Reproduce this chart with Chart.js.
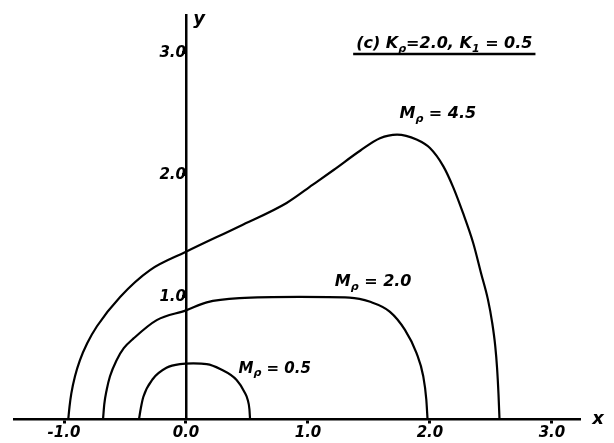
<!DOCTYPE html>
<html>
<head>
<meta charset="utf-8">
<script src="https://cdn.jsdelivr.net/npm/chart.js@4.4.1/dist/chart.umd.min.js"></script>
<style>
  html, body { margin: 0; padding: 0; background: #fff; }
</style>
</head>
<body>
<canvas id="myChart" width="614" height="443"></canvas>
<script>
  // axis ticks
  const xTicks = [-1, 0, 1, 2, 3];
  const xTickLabels = ['-1.0', '0.0', '1.0', '2.0', '3.0'];
  const yTicks = [1, 2, 3];
  const yTickLabels = ['1.0', '2.0', '3.0'];

  // M_rho = 4.5
  const m45X = [-0.965, -0.955, -0.94, -0.91, -0.87, -0.81, -0.73, -0.54, -0.295, 0.0, 0.44, 0.825, 1.04, 1.21, 1.43, 1.59, 1.73, 1.89, 2.0, 2.11, 2.19, 2.27, 2.355, 2.42, 2.475, 2.51, 2.535, 2.55, 2.562, 2.57];
  const m45Y = [0, 0.1, 0.21, 0.35, 0.48, 0.62, 0.76, 1.0, 1.22, 1.37, 1.58, 1.77, 1.92, 2.04, 2.2, 2.3, 2.33, 2.29, 2.22, 2.07, 1.9, 1.69, 1.44, 1.19, 0.98, 0.79, 0.6, 0.42, 0.2, 0];

  // M_rho = 2.0
  const m20X = [-0.68, -0.67, -0.65, -0.623, -0.57, -0.51, -0.43, -0.24, 0.0, 0.17, 0.44, 0.93, 1.34, 1.51, 1.67, 1.795, 1.89, 1.945, 1.97, 1.98];
  const m20Y = [0, 0.12, 0.24, 0.35, 0.48, 0.58, 0.66, 0.81, 0.89, 0.956, 0.99, 1.0, 0.995, 0.96, 0.88, 0.73, 0.54, 0.35, 0.16, 0];

  // M_rho = 0.5
  const m05X = [-0.385, -0.37, -0.35, -0.27, -0.16, -0.05, 0.06, 0.17, 0.28, 0.415, 0.48, 0.505, 0.52, 0.525];
  const m05Y = [0, 0.09, 0.18, 0.33, 0.42, 0.45, 0.455, 0.45, 0.41, 0.32, 0.22, 0.16, 0.08, 0];

  const curveNames = ['4.5', '2.0', '0.5'];

  const toPoints = (xs, ys) => xs.map((v, i) => ({x: v, y: ys[i]}));

  const FONT = '"DejaVu Sans", sans-serif';

  // hand lettered notes, placed in data units
  const notes = [
    {x: 1.75, y: 2.47, size: 16, parts: [['M'], ['ρ', true], [' = ' + curveNames[0]]]},
    {x: 1.22, y: 1.09, size: 16, parts: [['M'], ['ρ', true], [' = ' + curveNames[1]]]},
    {x: 0.43, y: 0.38, size: 15, parts: [['M'], ['ρ', true], [' = ' + curveNames[2]]]},
    {x: 1.395, y: 3.04, size: 16, underline: true,
      parts: [['(c) K'], ['ρ', true], ['=2.0, K'], ['1', true], [' = 0.5']]},
    {x: 3.33, y: -0.04, size: 18, parts: [['x']]},
    {x: 0.06, y: 3.24, size: 18, parts: [['y']]}
  ];

  const handText = {
    id: 'handText',
    afterDraw(chart) {
      const {ctx, scales: {x, y}} = chart;
      ctx.save();
      ctx.fillStyle = '#000';
      ctx.strokeStyle = '#000';
      ctx.textBaseline = 'alphabetic';
      notes.forEach(n => {
        const x0 = x.getPixelForValue(n.x);
        const py = y.getPixelForValue(n.y);
        let px = x0;
        n.parts.forEach(([t, sub]) => {
          const s = sub ? Math.round(n.size * 0.7) : n.size;
          ctx.font = 'bold italic ' + s + 'px ' + FONT;
          ctx.fillText(t, px, sub ? py + n.size * 0.25 : py);
          px += ctx.measureText(t).width;
        });
        if (n.underline) {
          ctx.lineWidth = 2.5;
          ctx.beginPath();
          ctx.moveTo(x0 - 3, py + 6);
          ctx.lineTo(px + 3, py + 6);
          ctx.stroke();
        }
      });
      ctx.restore();
    }
  };

  const curve = (xs, ys) => ({
    data: toPoints(xs, ys),
    showLine: true,
    borderColor: '#000',
    borderWidth: 2.2,
    pointRadius: 0,
    cubicInterpolationMode: 'monotone',
    fill: false
  });

  const tickFont = {family: FONT, size: 15, weight: 'bold', style: 'italic'};

  const ctx = document.getElementById('myChart');
  // eslint-disable-next-line no-unused-vars
  const myChart = new Chart(ctx, {
    type: 'scatter',
    data: {
      datasets: [curve(m45X, m45Y), curve(m20X, m20Y), curve(m05X, m05Y)]
    },
    options: {
      responsive: false,
      animation: false,
      devicePixelRatio: 1,
      layout: {padding: {left: 14, right: 34, top: 15, bottom: 24}},
      plugins: {
        legend: {display: false},
        tooltip: {enabled: false}
      },
      scales: {
        x: {
          type: 'linear',
          min: -1.41,
          max: 3.23,
          position: {y: 0},
          afterFit: s => { s.height = 0; },
          afterBuildTicks: s => { s.ticks = xTicks.map(v => ({value: v})); },
          grid: {display: true, drawOnChartArea: false, drawTicks: true, tickLength: 3, tickWidth: 3, tickColor: '#000'},
          border: {display: true, color: '#000', width: 2.5},
          ticks: {
            color: '#000',
            font: tickFont,
            padding: 2,
            maxRotation: 0,
            callback: (v) => xTickLabels[xTicks.indexOf(v)]
          }
        },
        y: {
          type: 'linear',
          min: 0,
          max: 3.31,
          position: {x: 0},
          afterFit: s => { s.width = 0; },
          afterBuildTicks: s => { s.ticks = yTicks.map(v => ({value: v})); },
          grid: {display: true, drawOnChartArea: false, drawTicks: true, tickLength: 3, tickWidth: 3, tickColor: '#000'},
          border: {display: true, color: '#000', width: 2.5},
          ticks: {
            color: '#000',
            font: tickFont,
            padding: 2,
            callback: (v) => yTickLabels[yTicks.indexOf(v)]
          }
        }
      }
    },
    plugins: [handText]
  });
</script>
</body>
</html>
